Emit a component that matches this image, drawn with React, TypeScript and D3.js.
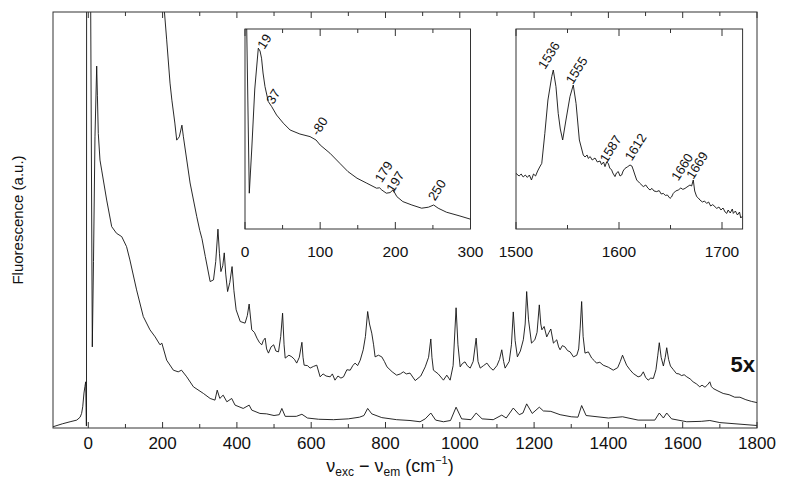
import React from 'react';
import * as d3 from 'd3';

// ---------- data (cm^-1, arbitrary units) ----------
const mainTickLabels = [0, 200, 400, 600, 800, 1000, 1200, 1400, 1600, 1800];
const mainMinorTicks = [100, 300, 500, 700, 900, 1100, 1300, 1500, 1700];

// 1x spectrum
const spectrum1x: [number, number][] = [
  [-95, 0.3], [-70, 1.0], [-49, 1.5], [-31, 1.9], [-22, 2.6], [-18, 3.5], [-15, 5.1], [-11.6, 8.4],
  [-9, 10.0], [-7, 11.1], [-6, 5], [-5.3, 0.5], [-4.8, 0.5], [-4.5, 130], [6, 130], [6.5, 100],
  [10.8, 19.5], [14, 40], [18, 70], [22.6, 87.0], [24.5, 80], [26.9, 70.8], [31.5, 64.4], [36, 62.0],
  [49.5, 54.8], [63, 48.4], [76, 46.8], [90, 46.0], [103, 43.6], [112, 40.4], [130, 33.2], [148, 26.8],
  [166, 23.6], [180, 21.9], [193, 20.0], [198, 20.4], [211, 16.3], [229, 13.9], [242, 13.5], [251, 13.9],
  [265, 12.3], [283, 9.9], [310, 8.3], [328, 7.1], [341, 6.7], [347, 9.1], [354, 7.1], [363, 7.9],
  [373, 6.3], [386, 7.1], [395, 5.5], [417, 4.7], [433, 5.5], [440, 4.3], [462, 3.5], [480, 3.4],
  [500, 3.0], [514, 3.2], [521, 4.7], [530, 2.8], [560, 2.8], [575, 3.3], [590, 2.4], [620, 2.1],
  [660, 2.0], [700, 2.2], [730, 2.6], [742, 3.0], [752, 4.7], [763, 3.4], [790, 2.5], [830, 2.0],
  [866, 1.8], [893, 1.5], [907, 2.2], [922, 3.6], [935, 1.9], [956, 1.5], [975, 1.8], [990, 5.0],
  [1005, 2.2], [1030, 2.0], [1044, 3.6], [1060, 2.2], [1090, 2.0], [1113, 3.1], [1125, 2.4], [1144, 4.8],
  [1160, 3.2], [1170, 3.6], [1180, 5.8], [1195, 3.5], [1214, 5.0], [1225, 4.1], [1245, 4.0], [1270, 3.2],
  [1300, 2.7], [1318, 2.6], [1328, 5.4], [1340, 3.0], [1400, 2.4], [1438, 2.7], [1480, 1.9], [1525, 1.9],
  [1537, 3.6], [1548, 2.4], [1557, 3.6], [1570, 2.2], [1611, 1.5], [1650, 1.6], [1673, 1.8], [1700, 1.3],
  [1800, 0.6],
];

// 5x spectrum
const spectrum5x: [number, number][] = [
  [195, 115], [205, 100], [211, 93.3], [220, 82.9], [225, 78.8], [233, 73.3], [238, 69.2], [245, 70],
  [252, 72.8], [256, 70.0], [274, 58.9], [292, 50.8], [300, 47.5], [306, 45.5], [315, 41.2], [328, 35.2],
  [337, 35.6], [343, 40], [349, 47.8], [353, 42], [357, 37.6], [362, 39], [366, 42.1], [370, 37],
  [375, 32.8], [381, 35], [387, 38.8], [392, 33], [398, 28.4], [409, 25.6], [422, 25.2], [428, 27],
  [433, 29.8], [440, 23.6], [447, 23], [454, 21.6], [461, 20.5], [467, 20.0], [471, 21], [476, 21.6],
  [480, 19], [485, 18.0], [492, 19.5], [499, 20.0], [505, 18.5], [512, 18.3], [518, 22], [523, 27.6],
  [527, 20], [530, 16.8], [540, 17.5], [548, 17.1], [555, 16.5], [561, 15.6], [568, 17], [575, 20.6],
  [578, 17], [581, 15.1], [590, 15], [597, 14.4], [606, 14.8], [615, 15.1], [624, 12.3], [632, 13],
  [640, 12.5], [651, 12.3], [657, 13], [664, 11.5], [672, 12.5], [680, 12], [687, 12.3], [696, 14],
  [705, 13.9], [712, 15], [718, 15.6], [725, 15], [732, 16.3], [740, 18.8], [746, 22], [752, 28.0],
  [757, 25], [763, 22.8], [768, 20], [772, 17.1], [781, 17.5], [790, 17.1], [797, 16], [804, 14.7],
  [818, 13.5], [830, 12.7], [840, 13], [848, 13.5], [856, 13], [866, 13.2], [880, 11.4], [895, 12.5],
  [907, 14.7], [916, 17], [922, 21.4], [925, 17], [929, 13.9], [942, 13], [956, 11.5], [965, 12.7],
  [974, 11.5], [982, 15], [990, 28.9], [995, 20], [1001, 14.7], [1007, 15.5], [1014, 15.9], [1020, 15],
  [1028, 14.4], [1036, 16], [1044, 21.6], [1049, 16], [1055, 14.4], [1064, 15], [1073, 15.6], [1082, 14.5],
  [1090, 13.9], [1100, 15], [1107, 16.5], [1113, 18.8], [1118, 16], [1122, 14.4], [1133, 16], [1139, 20],
  [1144, 27.9], [1149, 21], [1155, 17.1], [1163, 18.5], [1171, 21.2], [1176, 25], [1180, 32.8],
  [1185, 26], [1193, 20.4], [1202, 21.2], [1208, 23], [1214, 29.6], [1218, 25], [1221, 23.6],
  [1227, 24.4], [1234, 21.9], [1240, 23], [1245, 23.8], [1252, 20.4], [1261, 21.2], [1266, 19.5],
  [1270, 18.8], [1276, 19.8], [1283, 19.5], [1290, 18.6], [1297, 18.3], [1306, 17.1], [1315, 17.5],
  [1320, 19], [1324, 24], [1328, 30.4], [1332, 22], [1337, 18.0], [1346, 18.3], [1355, 16.8],
  [1362, 16.2], [1368, 15.6], [1377, 15.8], [1386, 15.1], [1400, 14.6], [1413, 13.9], [1425, 14.5],
  [1432, 16], [1438, 17.5], [1443, 16.4], [1449, 15.1], [1458, 14], [1467, 13.1], [1480, 12.3],
  [1487, 12.5], [1494, 13.5], [1500, 12.2], [1507, 11.5], [1514, 12], [1521, 11.9], [1528, 14],
  [1533, 17.5], [1537, 20.5], [1542, 17], [1548, 14.9], [1553, 17], [1557, 19.3], [1562, 16.5],
  [1567, 14.9], [1575, 14], [1583, 13.1], [1590, 13], [1597, 12.6], [1604, 12.8], [1611, 12.3],
  [1620, 11.8], [1628, 11.1], [1637, 10.6], [1646, 9.9], [1652, 10.3], [1660, 9.8], [1667, 10.4],
  [1673, 11.1], [1677, 10], [1682, 9.5], [1695, 8.9], [1709, 8.3], [1725, 8], [1740, 7.4],
  [1754, 7.4], [1770, 6.8], [1785, 6.4], [1800, 6.1],
];

// low-frequency inset (0-300 cm^-1)
const insetLowX = [0, 50, 100, 150, 200, 250, 300];
const insetLowLabels = [0, 100, 200, 300];
const insetLow: [number, number][] = [
  [1.5, 110], [2.3, 100], [5.7, 17.9], [9, 40], [13, 70], [17.7, 90.4], [20, 89], [22, 85.4],
  [24, 78], [26.6, 71.2], [31, 63.7], [35.5, 61.2], [42, 57], [51, 52.9], [60, 49.5], [73, 47.5],
  [86.5, 46.2], [94.5, 44.5], [100, 42], [113, 37.9], [126, 32.9], [137, 28.7], [149, 25.4],
  [162, 22.9], [175, 20.4], [179, 20.6], [182, 19.5], [188, 17.9], [193, 18.2], [197, 19.6],
  [202, 16.2], [210, 13.7], [222, 12], [235, 10.4], [244, 10.9], [251, 12], [257, 10.4],
  [268, 8.4], [286, 6.5], [300, 4.9],
];
const insetLowPeaks = [
  { label: '19', nu: 25.7, v: 89.5 },
  { label: '37', nu: 37.6, v: 62 },
  { label: '-80', nu: 97.5, v: 46.2 },
  { label: '179', nu: 181.9, v: 22.9 },
  { label: '197', nu: 197.3, v: 17.9 },
  { label: '250', nu: 252.8, v: 13.7 },
];

// high-frequency inset (1500-1720 cm^-1)
const insetHighX = [1500, 1550, 1600, 1650, 1700];
const insetHighLabels = [1500, 1600, 1700];
const insetHigh: [number, number][] = [
  [1500, 27.8], [1503, 26.5], [1505, 27.5], [1507, 26], [1509, 27], [1511, 25.8], [1513, 27],
  [1515, 24.5], [1517, 27.5], [1519, 26.5], [1521, 29], [1523, 31], [1525, 32.8], [1528, 47.8],
  [1531, 64.5], [1534.7, 76.2], [1536.2, 79.5], [1538.8, 71.2], [1541, 57.8], [1543, 50],
  [1545.3, 44.5], [1548.5, 54.5], [1552.4, 66.2], [1555.6, 72], [1558.3, 62.8], [1561.5, 44.5],
  [1565.3, 37], [1567, 36], [1569, 37], [1570.2, 35.3], [1572, 36.2], [1574, 34.5], [1576.7, 35.5],
  [1579, 33.5], [1581.6, 34], [1583, 32.2], [1585, 33.5], [1586.4, 31.2], [1588, 33.5],
  [1589.6, 32.8], [1591, 30.5], [1592.9, 29.5], [1594, 28], [1596.1, 26.2], [1597.5, 28],
  [1599.3, 28.7], [1601, 26.5], [1602.6, 27], [1604, 29], [1605.8, 30.3], [1608, 31], [1610.7, 32],
  [1612.5, 31.5], [1613.9, 29.5], [1615.5, 27], [1617.2, 24.5], [1620, 23], [1623.6, 21.2],
  [1626, 22], [1628, 20.5], [1630.1, 19.5], [1632, 20.3], [1634, 19], [1636.6, 18.7], [1639, 19.2],
  [1641, 17.5], [1643, 17.8], [1645, 16.8], [1647, 17], [1649.5, 15.3], [1651, 16], [1652.7, 17.8],
  [1655, 19], [1657.6, 19.5], [1660, 20.5], [1662, 19.8], [1664.1, 20.3], [1666, 21], [1668.9, 22],
  [1670.5, 21.5], [1672.1, 24.5], [1673.5, 19], [1675.4, 16.2], [1677, 15.5], [1678.6, 14.5],
  [1681, 13.5], [1683, 14], [1685.1, 12.8], [1687, 13.5], [1689, 11.5], [1691, 12.2], [1694.9, 10.3],
  [1697, 11], [1699, 9.5], [1701, 10.5], [1703, 8.5], [1704.6, 7.8], [1706, 9.5], [1708, 8],
  [1710, 10], [1711, 7.8], [1713, 9], [1715, 7], [1717, 8.5], [1718.2, 5.5], [1720, 6.5],
];
const insetHighPeaks = [
  { label: '1536', nu: 1528.2, v: 79.5 },
  { label: '1555', nu: 1555, v: 72 },
  { label: '1587', nu: 1588, v: 32.8 },
  { label: '1612', nu: 1612.3, v: 33.7 },
  { label: '1660', nu: 1657.6, v: 23.7 },
  { label: '1669', nu: 1672, v: 24.5 },
];

const FONT = "'Liberation Sans', Arial, Helvetica, sans-serif";
const INK = '#111';

type Pt = [number, number];

function Inset(props: {
  id: string; x0: number; x1: number; y0: number; y1: number;
  domain: [number, number]; ticks: number[]; labels: number[]; majorEvery: number;
  data: Pt[]; peaks: { label: string; nu: number; v: number }[];
}) {
  const { id, x0, x1, y0, y1, domain, ticks, labels, majorEvery, data, peaks } = props;
  const x = d3.scaleLinear().domain(domain).range([x0, x1]);
  const y = d3.scaleLinear().domain([0, 100]).range([y1, y0]);
  const line = d3.line<Pt>().x(d => x(d[0])).y(d => y(d[1]));
  const isMajor = (t: number) => Math.abs(t % majorEvery) < 1e-6;
  return (
    <g>
      <defs>
        <clipPath id={id}>
          <rect x={x0} y={y0} width={x1 - x0} height={y1 - y0} />
        </clipPath>
      </defs>
      <rect x={x0} y={y0} width={x1 - x0} height={y1 - y0} fill="#fff" stroke="#333" strokeWidth={1} />
      <path d={line(data) || ''} fill="none" stroke={INK} strokeWidth={0.9} clipPath={`url(#${id})`} />
      {ticks.map(t => {
        const len = isMajor(t) ? 7 : 4;
        return (
          <g key={t}>
            <line x1={x(t)} x2={x(t)} y1={y1} y2={y1 - len} stroke="#333" strokeWidth={1} />
            <line x1={x(t)} x2={x(t)} y1={y0} y2={y0 + len} stroke="#333" strokeWidth={1} />
          </g>
        );
      })}
      {labels.map(t => (
        <text key={t} x={x(t)} y={y1 + 28} textAnchor="middle" fontSize={15.5} fontFamily={FONT} fill={INK}>
          {t}
        </text>
      ))}
      {peaks.map(p => (
        <text key={p.label} transform={`translate(${x(p.nu)},${y(p.v)}) rotate(-58)`}
          fontSize={13} fontFamily={FONT} fill={INK}>
          {p.label}
        </text>
      ))}
    </g>
  );
}

export default function App() {
  const W = 791, H = 492;
  const left = 53, right = 757, top = 12, bottom = 428;
  const x = d3.scaleLinear().domain([-95, 1800]).range([left, right]);
  const y = d3.scaleLinear().domain([0, 100]).range([bottom, top]);
  const line = d3.line<Pt>().x(d => x(d[0])).y(d => y(d[1]));

  return (
    <svg width={W} height={H} style={{ position: 'absolute', left: 0, top: 0, background: '#fff' }}>
      <defs>
        <clipPath id="mainclip">
          <rect x={left} y={top} width={right - left} height={bottom - top} />
        </clipPath>
      </defs>
      <rect x={0} y={0} width={W} height={H} fill="#fff" />
      <g clipPath="url(#mainclip)">
        <path d={line(spectrum1x) || ''} fill="none" stroke={INK} strokeWidth={0.9} />
        <path d={line(spectrum5x) || ''} fill="none" stroke={INK} strokeWidth={0.9} />
      </g>
      <rect x={left} y={top} width={right - left} height={bottom - top} fill="none" stroke="#333" strokeWidth={1} />
      {[...mainTickLabels, ...mainMinorTicks].map(t => {
        const len = mainTickLabels.includes(t) ? 6 : 4;
        return (
          <g key={t}>
            <line x1={x(t)} x2={x(t)} y1={bottom} y2={bottom - len} stroke="#333" />
            <line x1={x(t)} x2={x(t)} y1={top} y2={top + len} stroke="#333" />
          </g>
        );
      })}
      {mainTickLabels.map(t => (
        <text key={t} x={x(t)} y={449} textAnchor="middle" fontSize={17} fontFamily={FONT} fill={INK}>
          {t}
        </text>
      ))}
      <text x={390} y={472} textAnchor="middle" fontSize={18} fontFamily={FONT} fill={INK}>
        ν<tspan fontSize={12} dy={4}>exc</tspan>
        <tspan dy={-4}> − ν</tspan>
        <tspan fontSize={12} dy={4}>em</tspan>
        <tspan dy={-4}> (cm</tspan>
        <tspan fontSize={11} dy={-8}>−1</tspan>
        <tspan dy={8}>)</tspan>
      </text>
      <text transform={`translate(23,${(top + bottom) / 2}) rotate(-90)`} textAnchor="middle"
        fontSize={15} fontFamily={FONT} fill={INK}>
        Fluorescence (a.u.)
      </text>
      <text x={755} y={372} textAnchor="end" fontSize={22} fontWeight="bold" fontFamily={FONT} fill={INK}>
        5x
      </text>
      <Inset id="clipLow" x0={245} x1={470.5} y0={29} y1={229} domain={[0, 300]}
        ticks={insetLowX} labels={insetLowLabels} majorEvery={100} data={insetLow} peaks={insetLowPeaks} />
      <Inset id="clipHigh" x0={516} x1={742.6} y0={29} y1={229} domain={[1500, 1720]}
        ticks={insetHighX} labels={insetHighLabels} majorEvery={100} data={insetHigh} peaks={insetHighPeaks} />
    </svg>
  );
}
